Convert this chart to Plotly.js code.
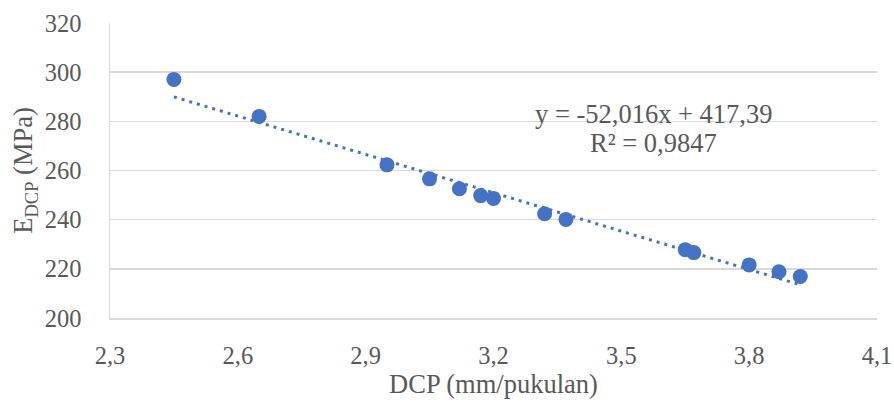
<!DOCTYPE html>
<html>
<head>
<meta charset="utf-8">
<script src="https://cdn.plot.ly/plotly-3.0.1.min.js"></script>
<style>html,body{margin:0;padding:0;background:#fff;}#chart{width:894px;height:403px;}</style>
</head>
<body>
<div id="chart"></div>
<script>
const dcp = [2.45, 2.65, 2.95, 3.05, 3.12, 3.17, 3.20, 3.32, 3.37, 3.65, 3.67, 3.80, 3.87, 3.92];
const edcp = [297, 282, 262.3, 256.6, 252.6, 249.8, 248.6, 242.4, 240.1, 227.8, 226.6, 221.6, 218.8, 216.9];
const slope = -52.016;
const intercept = 417.39;
const eqText = 'y = -52,016x + 417,39';
const r2Text = 'R² = 0,9847';

const xMin = Math.min(...dcp), xMax = Math.max(...dcp);
const trendX = [xMin, xMax];
const trendY = trendX.map(x => slope * x + intercept);

const col = '#4472C4';
const fam = '"Liberation Serif", "Times New Roman", serif';
const tickFont = {family: fam, size: 24.5, color: '#595959'};
const bigFont = {family: fam, size: 26.5, color: '#595959'};

const data = [
  {x: trendX, y: trendY, mode: 'lines', line: {color: col, width: 3, dash: '3px,5px'}, hoverinfo: 'skip'},
  {x: dcp, y: edcp, mode: 'markers', marker: {color: col, size: 15}}
];

const layout = {
  width: 894, height: 403,
  margin: {l: 110, r: 17, t: 23, b: 85},
  paper_bgcolor: '#fff', plot_bgcolor: '#fff',
  showlegend: false,
  separators: ',.',
  font: tickFont,
  xaxis: {
    range: [2.3, 4.1], tick0: 2.3, dtick: 0.3, tickformat: '.1f',
    showgrid: false, zeroline: false,
    showline: true, linecolor: '#d9d9d9', linewidth: 1.5,
    ticks: '', ticklabelstandoff: 15,
    tickfont: tickFont,
    title: {text: 'DCP (mm/pukulan)', font: bigFont, standoff: 2}
  },
  yaxis: {
    range: [200, 320], dtick: 20,
    showgrid: true, gridcolor: '#d9d9d9', gridwidth: 1.5,
    zeroline: false,
    showline: true, linecolor: '#d9d9d9', linewidth: 1.5,
    ticks: '', ticklabelstandoff: 22,
    tickfont: tickFont,
    title: {text: 'E<sub>DCP</sub> (MPa)', font: bigFont, standoff: 4}
  },
  annotations: [
    {x: 0.7087, y: 0.6915, xref: 'paper', yref: 'paper', text: eqText, showarrow: false, font: bigFont, xanchor: 'center', yanchor: 'middle'},
    {x: 0.7087, y: 0.593, xref: 'paper', yref: 'paper', text: r2Text, showarrow: false, font: bigFont, xanchor: 'center', yanchor: 'middle'}
  ]
};

Plotly.newPlot('chart', data, layout, {displayModeBar: false, staticPlot: true});
</script>
</body>
</html>
